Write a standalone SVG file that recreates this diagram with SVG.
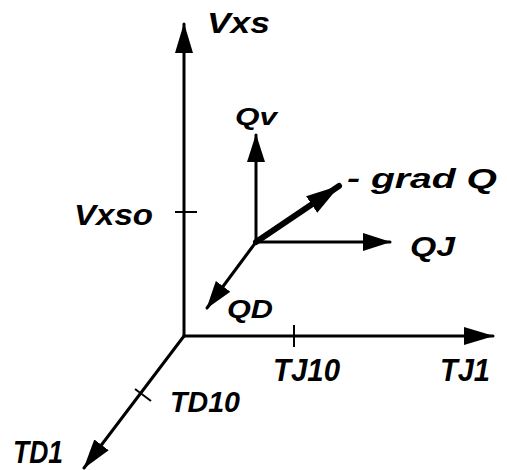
<svg xmlns="http://www.w3.org/2000/svg" width="507" height="470" viewBox="0 0 507 470">
<style>
.ax{stroke:#000;stroke-width:3;fill:none;stroke-linecap:round}
.thin{stroke:#000;stroke-width:2;fill:none}
.lbl{font-family:"Liberation Sans",Arial,sans-serif;font-style:italic;font-weight:bold;fill:#000}
</style>
<defs>
<marker id="ah" viewBox="0 0 30 20" refX="29" refY="10" markerWidth="30" markerHeight="20" markerUnits="userSpaceOnUse" orient="auto">
<path d="M0,1 L30,10 L0,19 Z" fill="#000"/>
</marker>
<marker id="ahs" viewBox="0 0 28 20" refX="27" refY="10" markerWidth="28" markerHeight="20" markerUnits="userSpaceOnUse" orient="auto">
<path d="M0,1 L28,10 L0,19 Z" fill="#000"/>
</marker>
<marker id="ahg" viewBox="0 0 34 22" refX="33" refY="11" markerWidth="34" markerHeight="22" markerUnits="userSpaceOnUse" orient="auto">
<path d="M0,1 L34,11 L0,21 Z" fill="#000"/>
</marker>
</defs>
<g id="connectors">
<line class="ax" x1="184" y1="336" x2="184" y2="24" marker-end="url(#ah)"/>
<line class="ax" x1="184" y1="336" x2="493" y2="336" marker-end="url(#ah)"/>
<line class="ax" x1="184" y1="336" x2="84" y2="468" marker-end="url(#ah)"/>
<line class="thin" x1="175" y1="212" x2="197" y2="212"/>
<line class="thin" x1="294" y1="325" x2="294" y2="347"/>
<line class="thin" x1="135" y1="389" x2="151" y2="401"/>
<line class="ax" x1="256" y1="242" x2="256" y2="135" marker-end="url(#ahs)"/>
<line class="ax" x1="256" y1="242" x2="390" y2="242" marker-end="url(#ahs)"/>
<line class="ax" x1="256" y1="242" x2="207" y2="308" marker-end="url(#ahs)"/>
<line x1="256" y1="242" x2="339" y2="186" stroke="#000" stroke-width="6" stroke-linecap="round" marker-end="url(#ahg)"/>
</g>
<g id="labels">
<g id="vxs"><text class="lbl" x="207" y="33" font-size="30" textLength="63" lengthAdjust="spacingAndGlyphs">Vxs</text></g>
<g id="vxso"><text class="lbl" x="74" y="225" font-size="29" textLength="79" lengthAdjust="spacingAndGlyphs">Vxso</text></g>
<g id="qv"><text class="lbl" x="235" y="125" font-size="24" textLength="42" lengthAdjust="spacingAndGlyphs">Qv</text></g>
<g id="grad"><text class="lbl" x="347" y="188" font-size="28" textLength="150" lengthAdjust="spacingAndGlyphs">- grad Q</text></g>
<g id="qj"><text class="lbl" x="410" y="256" font-size="28" textLength="45" lengthAdjust="spacingAndGlyphs">QJ</text></g>
<g id="qd"><text class="lbl" x="227" y="318" font-size="25" textLength="46" lengthAdjust="spacingAndGlyphs">QD</text></g>
<g id="tj10"><text class="lbl" x="273" y="381" font-size="32" textLength="67" lengthAdjust="spacingAndGlyphs">TJ10</text></g>
<g id="tj1"><text class="lbl" x="440" y="381" font-size="32" textLength="50" lengthAdjust="spacingAndGlyphs">TJ1</text></g>
<g id="td10"><text class="lbl" x="170" y="412" font-size="30" textLength="70" lengthAdjust="spacingAndGlyphs">TD10</text></g>
<g id="td1"><text class="lbl" x="13" y="463" font-size="31" textLength="50" lengthAdjust="spacingAndGlyphs">TD1</text></g>
</g>
</svg>
